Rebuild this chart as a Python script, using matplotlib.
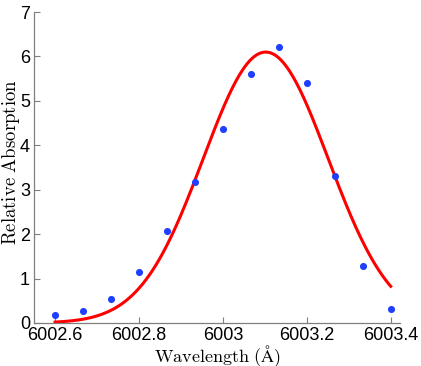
import numpy as np
import matplotlib
matplotlib.use("Agg")
from matplotlib import pyplot as plt

# measured absorption points
wavelength = [6002.6, 6002.6667, 6002.7333, 6002.8, 6002.8667, 6002.9333,
              6003.0, 6003.0667, 6003.1333, 6003.2, 6003.2667, 6003.3333,
              6003.4]
absorption = [0.17, 0.26, 0.54, 1.15, 2.07, 3.18, 4.37, 5.61, 6.22, 5.40,
              3.30, 1.28, 0.31]

# gaussian fit parameters
fit_amp = 6.10
fit_center = 6003.102
fit_sigma = 0.149
fit_range = (6002.6, 6003.4)

xticks = [6002.6, 6002.8, 6003.0, 6003.2, 6003.4]
xticklabels = ["6002.6", "6002.8", "6003", "6003.2", "6003.4"]
yticks = [0, 1, 2, 3, 4, 5, 6, 7]

plt.rcParams["font.family"] = ["Liberation Sans", "DejaVu Sans"]
plt.rcParams["mathtext.fontset"] = "cm"

fig = plt.figure(figsize=(4.21, 3.66), dpi=100)
ax = fig.add_axes([0.081, 0.1175, 0.869, 0.8495])

x_fit = np.linspace(fit_range[0], fit_range[1], 300)
y_fit = fit_amp * np.exp(-(x_fit - fit_center) ** 2 / (2 * fit_sigma ** 2))

ax.scatter(wavelength, absorption, s=26, color="#1f3fff", zorder=3,
           linewidths=0)
ax.plot(x_fit, y_fit, color="#ff0000", lw=2.2, zorder=2)

ax.set_xlim(6002.55, 6003.422)
ax.set_ylim(0, 7)
ax.set_xticks(xticks)
ax.set_xticklabels(xticklabels)
ax.set_yticks(yticks)

for side in ["top", "right"]:
    ax.spines[side].set_visible(False)
for side in ["left", "bottom"]:
    ax.spines[side].set_color("#7f7f7f")
    ax.spines[side].set_linewidth(0.9)

ax.tick_params(direction="in", length=4, width=0.8, color="#7f7f7f",
               labelsize=13, labelcolor="black", pad=3)

ax.set_xlabel(r"$\mathrm{Wavelength\ (\AA)}$", fontsize=13)
ax.xaxis.set_label_coords(0.5, -0.064)
ax.set_ylabel(r"$\mathrm{Relative\ Absorption}$", fontsize=13.5)
ax.yaxis.set_label_coords(-0.033, 0.516)

fig.savefig("out.png", dpi=100)
